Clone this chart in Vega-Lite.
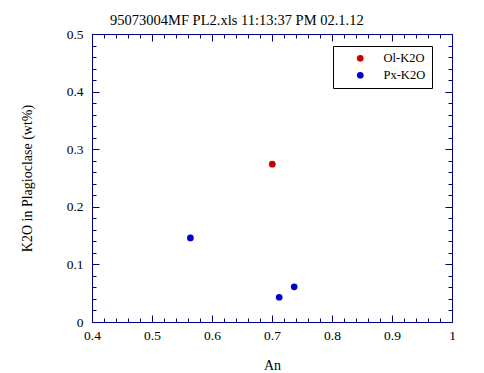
{
  "$schema": "https://vega.github.io/schema/vega-lite/v6.json",
  "width": 360,
  "height": 288,
  "autosize": "none",
  "padding": {"left": 92, "top": 34, "right": 32, "bottom": 51},
  "config": {"font": "Liberation Serif", "view": {"stroke": null}},
  "title": {"text": "95073004MF PL2.xls 11:13:37 PM 02.1.12", "anchor": "start", "frame": "group", "dx": 18, "dy": 4, "fontSize": 14.5, "fontWeight": "normal", "font": "Liberation Serif", "offset": 3, "color": "black"},
  "data": {"values": [
    {"An": 0.7005, "K2O": 0.274, "series": "Ol-K2O"},
    {"An": 0.564, "K2O": 0.146, "series": "Px-K2O"},
    {"An": 0.712, "K2O": 0.043, "series": "Px-K2O"},
    {"An": 0.737, "K2O": 0.061, "series": "Px-K2O"}
  ]},
  "layer": [
    {
      "mark": {"type": "point", "filled": true, "size": 45, "opacity": 1},
      "encoding": {
        "x": {"field": "An", "type": "quantitative", "scale": {"domain": [0.4, 1], "nice": false, "zero": false},
          "axis": {"orient": "bottom", "values": [0.4,0.42,0.44,0.46,0.48,0.5,0.52,0.54,0.56,0.58,0.6,0.62,0.64,0.66,0.68,0.7,0.72,0.74,0.76,0.78,0.8,0.82,0.84,0.86,0.88,0.9,0.92,0.94,0.96,0.98,1.0],
            "labelExpr": "abs(datum.value*10-round(datum.value*10))<0.001 ? format(datum.value, '.1~f') : ''",
            "tickSize": {"condition": {"test": "abs(datum.value*10-round(datum.value*10))<0.001", "value": -7}, "value": -4},
            "domainColor": "#000080", "tickColor": "#000080", "labelColor": "black", "labelFont": "Liberation Serif", "labelFontSize": 13.5,
            "labelPadding": 13, "labelFlush": false, "labelOverlap": false, "grid": false,
            "title": "An", "titleFont": "Liberation Serif", "titleFontSize": 14, "titleFontWeight": "normal", "titleColor": "black", "titlePadding": 14}},
        "y": {"field": "K2O", "type": "quantitative", "scale": {"domain": [0, 0.5], "nice": false, "zero": false},
          "axis": {"orient": "left", "values": [0,0.02,0.04,0.06,0.08,0.1,0.12,0.14,0.16,0.18,0.2,0.22,0.24,0.26,0.28,0.3,0.32,0.34,0.36,0.38,0.4,0.42,0.44,0.46,0.48,0.5],
            "labelExpr": "abs(datum.value*10-round(datum.value*10))<0.001 ? format(datum.value, '.1~f') : ''",
            "tickSize": {"condition": {"test": "abs(datum.value*10-round(datum.value*10))<0.001", "value": -7}, "value": -4},
            "domainColor": "#000080", "tickColor": "#000080", "labelColor": "black", "labelFont": "Liberation Serif", "labelFontSize": 13.5,
            "labelPadding": 16, "labelFlush": false, "labelOverlap": false, "grid": false,
            "title": "K2O in Plagioclase (wt%)", "titleFont": "Liberation Serif", "titleFontSize": 14, "titleFontWeight": "normal", "titleColor": "black", "titlePadding": 32}},
        "color": {"field": "series", "type": "nominal",
          "scale": {"domain": ["Ol-K2O", "Px-K2O"], "range": ["#cc0000", "#0000cc"]},
          "legend": {"orient": "none", "legendX": 241, "legendY": 12, "title": null, "strokeColor": "black", "fillColor": "white",
            "padding": 6, "symbolOffset": 15, "symbolType": "circle", "symbolSize": 45, "labelFont": "Liberation Serif", "labelFontSize": 12.5,
            "labelOffset": 17, "rowPadding": 4,
            "encode": {"labels": {"update": {"fill": {"signal": "datum.value === 'Ol-K2O' ? '#b00000' : '#000090'"}}}}}}
      }
    },
    {
      "mark": {"type": "point", "opacity": 0},
      "encoding": {
        "x": {"field": "An", "type": "quantitative", "scale": {"domain": [0.4, 1], "nice": false, "zero": false},
          "axis": {"orient": "top", "values": [0.4,0.42,0.44,0.46,0.48,0.5,0.52,0.54,0.56,0.58,0.6,0.62,0.64,0.66,0.68,0.7,0.72,0.74,0.76,0.78,0.8,0.82,0.84,0.86,0.88,0.9,0.92,0.94,0.96,0.98,1.0],
            "labels": false, "title": null,
            "tickSize": {"condition": {"test": "abs(datum.value*10-round(datum.value*10))<0.001", "value": -7}, "value": -4},
            "domainColor": "#000080", "tickColor": "#000080", "grid": false}},
        "y": {"field": "K2O", "type": "quantitative", "scale": {"domain": [0, 0.5], "nice": false, "zero": false},
          "axis": {"orient": "right", "values": [0,0.02,0.04,0.06,0.08,0.1,0.12,0.14,0.16,0.18,0.2,0.22,0.24,0.26,0.28,0.3,0.32,0.34,0.36,0.38,0.4,0.42,0.44,0.46,0.48,0.5],
            "labels": false, "title": null,
            "tickSize": {"condition": {"test": "abs(datum.value*10-round(datum.value*10))<0.001", "value": -7}, "value": -4},
            "domainColor": "#000080", "tickColor": "#000080", "grid": false}}
      }
    }
  ],
  "resolve": {"axis": {"x": "independent", "y": "independent"}}
}
